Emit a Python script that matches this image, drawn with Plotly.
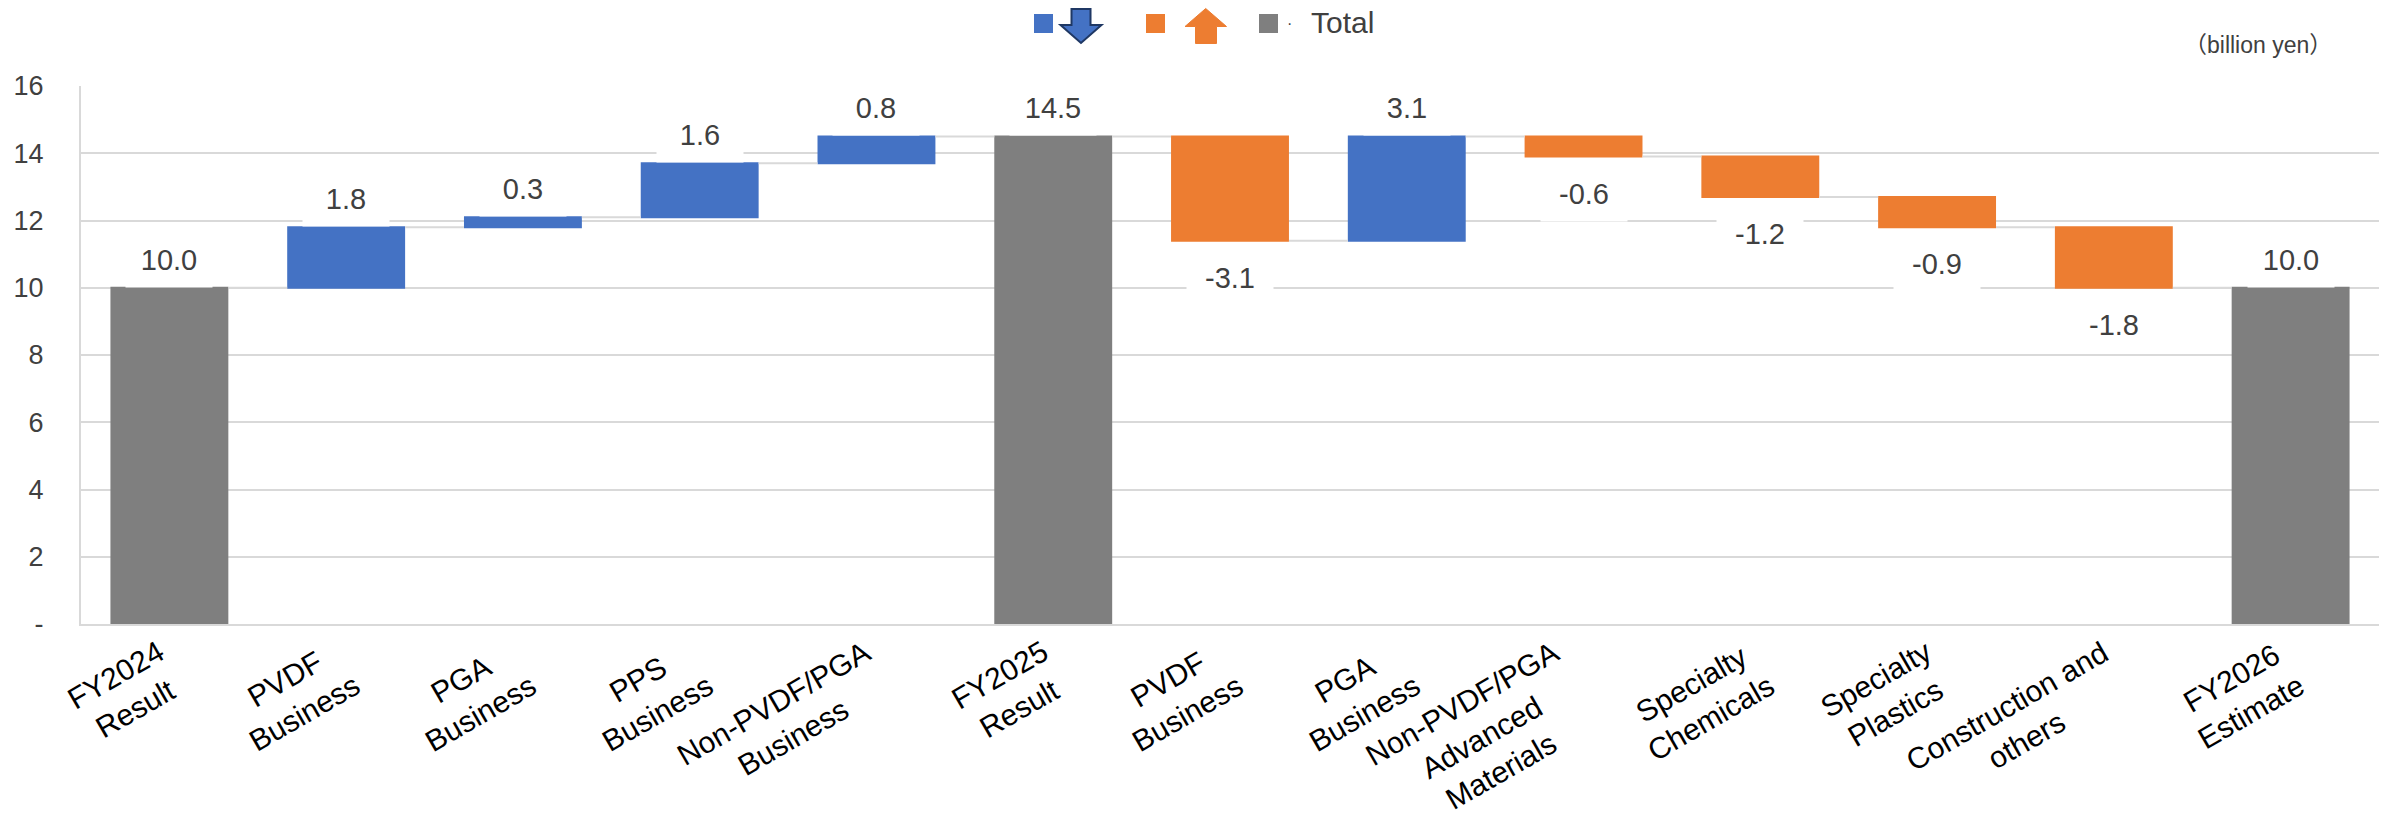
import plotly.graph_objects as go

# ---------------- data ----------------
categories = [
    "FY2024<br>Result", "PVDF<br>Business", "PGA<br>Business", "PPS<br>Business",
    "Non-PVDF/PGA<br>Business", "FY2025<br>Result", "PVDF<br>Business", "PGA<br>Business",
    "Non-PVDF/PGA<br>Advanced<br>Materials", "Specialty<br>Chemicals", "Specialty<br>Plastics",
    "Construction and<br>others", "FY2026<br>Estimate",
]
values = [10.0, 1.8, 0.3, 1.6, 0.8, 14.5, -3.1, 3.1, -0.6, -1.2, -0.9, -1.8, 10.0]
measures = ["absolute", "relative", "relative", "relative", "relative", "total",
            "relative", "relative", "relative", "relative", "relative", "relative", "total"]
y_tickvals = [0, 2, 4, 6, 8, 10, 12, 14, 16]
y_ticktext = ["-", "2", "4", "6", "8", "10", "12", "14", "16"]
unit_label = "（billion yen）"
legend_total = "Total"

# ---------------- style ----------------
BLUE = "#4472C4"
ORANGE = "#ED7D31"
GRAY = "#7F7F7F"
GRID = "#D9D9D9"
TXT = "#404040"
FONT = "Arial, Liberation Sans, sans-serif"

W, H = 2385, 822
ML, MR, MT, MB = 81, 6, 86, 198
PW, PH = W - ML - MR, H - MT - MB


def px2x(px):
    return (px - ML) / PW


def py2y(py):
    return (H - MB - py) / PH


xpos = list(range(len(categories)))

fig = go.Figure()
fig.add_trace(go.Waterfall(
    x=xpos, y=values, measure=measures,
    increasing=dict(marker=dict(color=BLUE)),
    decreasing=dict(marker=dict(color=ORANGE)),
    totals=dict(marker=dict(color=GRAY)),
    connector=dict(line=dict(color=GRID, width=2)),
    textinfo="none", hoverinfo="x+y", showlegend=False,
))

# running totals to position value labels
annotations = []
running = 0.0
for i, (v, m) in enumerate(zip(values, measures)):
    if m == "absolute":
        running = v
        end, up = running, True
    elif m == "total":
        end, up = running, True
    else:
        running += v
        end, up = running, v >= 0
    annotations.append(dict(
        x=xpos[i], y=end, xref="x", yref="y",
        text=f"{v:.1f}", showarrow=False,
        yshift=28 if up else -37,
        font=dict(size=29, color=TXT, family=FONT),
        bgcolor="white", width=70, height=38, borderpad=8,
        xanchor="center", yanchor="middle",
    ))

# rotated category labels (centred lines, like the original)
for i, c in enumerate(categories):
    annotations.append(dict(
        x=xpos[i], y=0, xref="x", yref="paper",
        text=c, showarrow=False, textangle=-30, align="center",
        xanchor="right", yanchor="top", xshift=22, yshift=-8,
        font=dict(size=30, color="black", family=FONT),
    ))

# unit label
annotations.append(dict(
    x=px2x(2334), y=py2y(45), xref="paper", yref="paper",
    text=unit_label, showarrow=False, xanchor="right", yanchor="middle",
    font=dict(size=23, color=TXT, family=FONT + ", Noto Sans CJK JP"),
))
# legend text
annotations.append(dict(
    x=px2x(1289), y=py2y(24), xref="paper", yref="paper",
    text="·", showarrow=False, xanchor="center", yanchor="middle",
    font=dict(size=16, color=TXT, family=FONT),
))
annotations.append(dict(
    x=px2x(1309), y=py2y(22), xref="paper", yref="paper",
    text=legend_total, showarrow=False, xanchor="left", yanchor="middle",
    font=dict(size=30, color=TXT, family=FONT),
))

shapes = []


def square(x0, y0, x1, y1, color):
    return dict(type="rect", xref="paper", yref="paper",
                x0=px2x(x0), x1=px2x(x1), y0=py2y(y0), y1=py2y(y1),
                fillcolor=color, line=dict(width=0))


def poly(points, fill, line, lw):
    d = "M " + " L ".join(f"{px2x(a):.5f},{py2y(b):.5f}" for a, b in points) + " Z"
    return dict(type="path", xref="paper", yref="paper", path=d,
                fillcolor=fill, line=dict(color=line, width=lw))


shapes.append(square(1034, 14, 1053, 33, BLUE))
shapes.append(poly([(1071.5, 9), (1090.5, 9), (1090.5, 25), (1101.5, 25),
                    (1081, 43), (1060.5, 25), (1071.5, 25)], BLUE, "#1F3864", 2))
shapes.append(square(1146, 14, 1165, 33, ORANGE))
shapes.append(poly([(1205.7, 8.5), (1226.5, 26.5), (1216.5, 26.5), (1216.5, 43.5),
                    (1195.5, 43.5), (1195.5, 26.5), (1185, 26.5)], ORANGE, ORANGE, 1))
shapes.append(square(1259, 14, 1278, 33, GRAY))

fig.update_layout(
    width=W, height=H,
    margin=dict(l=ML, r=MR, t=MT, b=MB),
    paper_bgcolor="white", plot_bgcolor="white",
    font=dict(family=FONT, color=TXT),
    waterfallgap=0.333,
    showlegend=False,
    annotations=annotations,
    shapes=shapes,
    xaxis=dict(
        range=[-0.5, len(categories) - 0.5],
        showticklabels=False, showgrid=False, zeroline=False,
        showline=True, linecolor=GRID, linewidth=2, ticks="",
    ),
    yaxis=dict(
        range=[0, 16], tickvals=y_tickvals, ticktext=y_ticktext,
        showgrid=True, gridcolor=GRID, gridwidth=1.5,
        zeroline=False, showline=True, linecolor=GRID, linewidth=2,
        ticks="", ticklabelstandoff=30,
        tickfont=dict(size=27, color=TXT, family=FONT),
    ),
)

fig.write_html("out.html")
